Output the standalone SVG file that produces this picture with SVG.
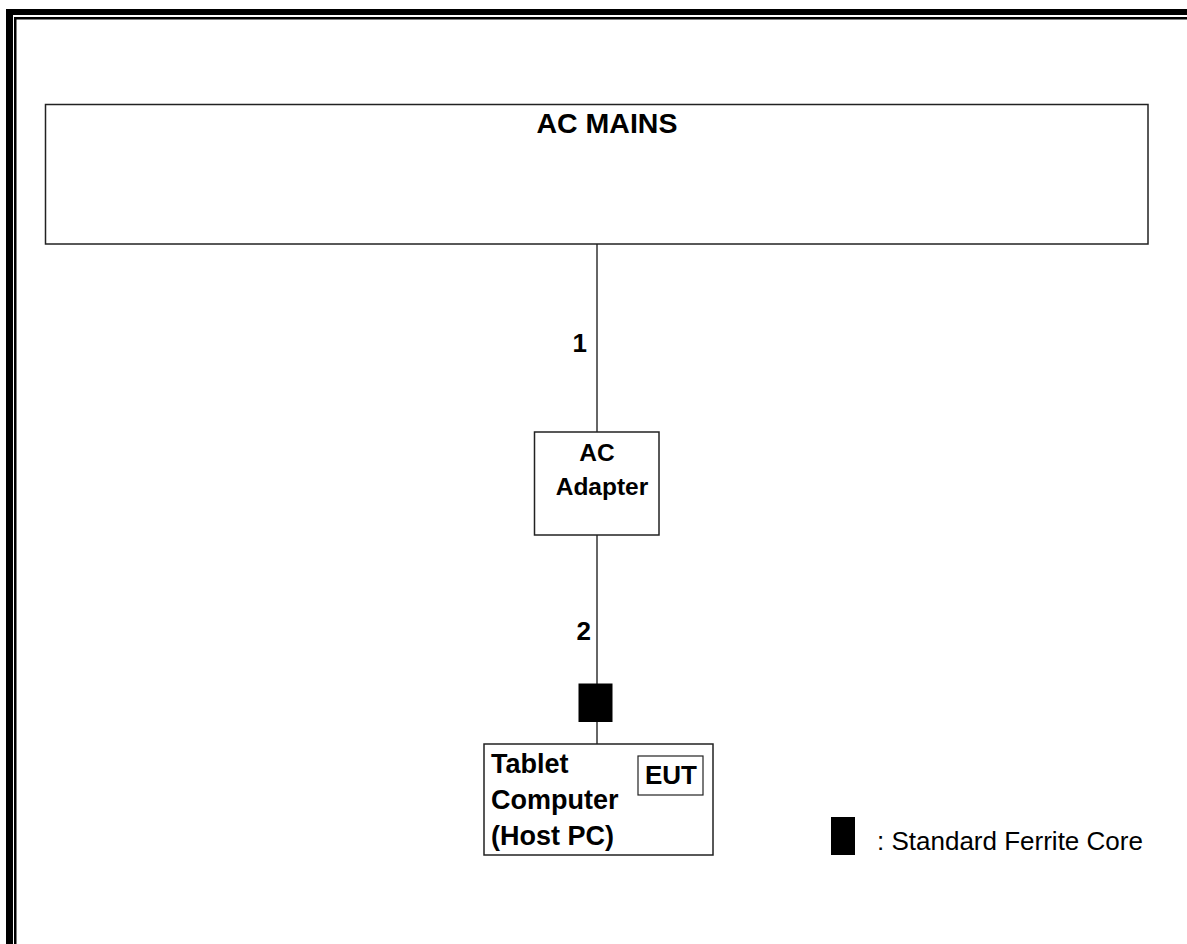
<svg xmlns="http://www.w3.org/2000/svg" width="1187" height="944" viewBox="0 0 1187 944">
<style>
.box{fill:#fff;stroke:#222;stroke-width:1.5}
.wire{stroke:#333;stroke-width:1.5;fill:none}
.b{font-family:"Liberation Sans",Arial,sans-serif;font-weight:bold;fill:#000}
.r{font-family:"Liberation Sans",Arial,sans-serif;fill:#000}
</style>
<rect width="1187" height="944" fill="#fff"/>
<g id="frame">
<rect x="6" y="9" width="1181" height="6" fill="#000"/>
<rect x="6" y="9" width="7" height="935" fill="#000"/>
<rect x="14" y="17" width="1173" height="2.5" fill="#000"/>
<rect x="14" y="17" width="2.5" height="927" fill="#000"/>
</g>
<g id="connectors">
<line class="wire" x1="597" y1="244" x2="597" y2="432"/>
<line class="wire" x1="597" y1="535" x2="597" y2="744"/>
<text class="b" x="587" y="352" font-size="26" text-anchor="end">1</text>
<text class="b" x="591" y="640" font-size="26" text-anchor="end">2</text>
</g>
<g id="ac-mains">
<rect class="box" x="45.5" y="104.5" width="1102.5" height="139.5"/>
<text class="b" x="607" y="132.5" font-size="28.5" text-anchor="middle">AC MAINS</text>
</g>
<g id="ac-adapter">
<rect class="box" x="534.5" y="432" width="124.5" height="103"/>
<text class="b" x="597" y="461" font-size="24.5" text-anchor="middle">AC</text>
<text class="b" x="602" y="495" font-size="24.5" text-anchor="middle">Adapter</text>
</g>
<g id="ferrite">
<rect x="578.5" y="683.5" width="34" height="38.5" fill="#000"/>
</g>
<g id="tablet">
<rect class="box" x="484" y="744" width="229" height="111"/>
<text class="b" x="491" y="773" font-size="27">Tablet</text>
<text class="b" x="491" y="809" font-size="27">Computer</text>
<text class="b" x="491" y="845" font-size="27">(Host PC)</text>
<rect class="box" x="638" y="756" width="65" height="39" style="stroke-width:1.2"/>
<text class="b" x="671" y="784" font-size="26" text-anchor="middle">EUT</text>
</g>
<g id="legend">
<rect x="831" y="817" width="24" height="38" fill="#000"/>
<text class="r" x="877" y="850" font-size="26">: Standard Ferrite Core</text>
</g>
</svg>
